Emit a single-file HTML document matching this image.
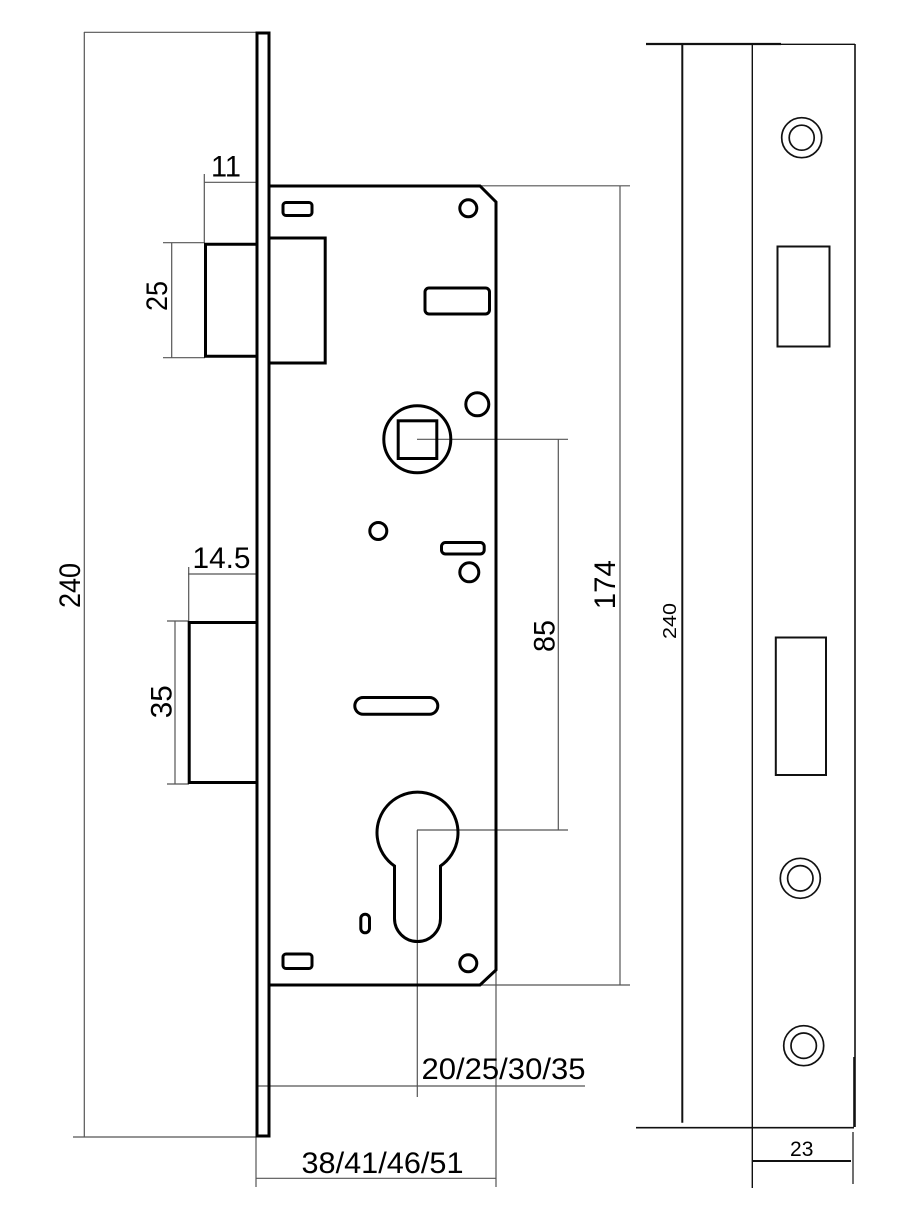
<!DOCTYPE html>
<html>
<head>
<meta charset="utf-8">
<style>
html,body{margin:0;padding:0;background:#fff;}
svg{display:block;}
text{font-family:"Liberation Sans",Arial,sans-serif;fill:#000;}
</style>
</head>
<body>
<svg width="913" height="1220" viewBox="0 0 913 1220" xmlns="http://www.w3.org/2000/svg">
<rect width="913" height="1220" fill="#fff"/>

<!-- Dimension lines (thin gray) -->
<g stroke="#555" stroke-width="1.2" fill="none">
  <line x1="84" y1="32.3" x2="256" y2="32.3"/>
  <line x1="84.3" y1="32" x2="84.3" y2="1137"/>
  <line x1="73" y1="1137" x2="256" y2="1137"/>
  <!-- 11 -->
  <line x1="204.3" y1="174" x2="204.3" y2="243"/>
  <line x1="204" y1="182.3" x2="256" y2="182.3"/>
  <!-- 25 -->
  <line x1="171.7" y1="243" x2="171.7" y2="358"/>
  <line x1="163" y1="242.7" x2="205" y2="242.7"/>
  <line x1="163" y1="357.7" x2="205" y2="357.7"/>
  <!-- 14.5 -->
  <line x1="188.7" y1="567" x2="188.7" y2="621"/>
  <line x1="188" y1="574" x2="256" y2="574"/>
  <!-- 35 -->
  <line x1="175" y1="621" x2="175" y2="784"/>
  <line x1="167" y1="621" x2="189" y2="621"/>
  <line x1="167" y1="784" x2="189" y2="784"/>
  <!-- 174 -->
  <line x1="480" y1="185.8" x2="630" y2="185.8"/>
  <line x1="620" y1="186" x2="620" y2="985"/>
  <line x1="479" y1="985" x2="630" y2="985"/>
  <!-- 85 -->
  <line x1="417" y1="439.3" x2="568" y2="439.3"/>
  <line x1="558.3" y1="439.3" x2="558.3" y2="830"/>
  <line x1="417" y1="830" x2="568" y2="830"/>
  <!-- backset -->
  <line x1="417.3" y1="830" x2="417.3" y2="1097"/>
  <line x1="256.7" y1="1086" x2="585" y2="1086"/>
  <line x1="496" y1="970" x2="496" y2="1187"/>
  <line x1="256" y1="1137" x2="256" y2="1187"/>
  <line x1="256" y1="1178.3" x2="496" y2="1178.3"/>
</g>

<!-- Main drawing (thick black) -->
<g stroke="#000" stroke-width="3" fill="none" stroke-linejoin="miter">
  <rect x="257" y="33" width="12" height="1103"/>
  <path d="M270,186 H480 L496,202 V970 L480,985 H270"/>
  <path d="M270,238 H325.2 V363 H270"/>
  <path d="M256,244.2 H205.5 V356.2 H256"/>
  <path d="M256,622.5 H189.2 V782.5 H256"/>
  <rect x="283" y="202.5" width="29" height="13" rx="3"/>
  <circle cx="468.3" cy="208.3" r="8.5"/>
  <rect x="425" y="288" width="64.5" height="26" rx="4"/>
  <circle cx="477.3" cy="404.3" r="11.5"/>
  <circle cx="417.3" cy="439.3" r="33.5"/>
  <rect x="398.2" y="420.8" width="38.6" height="37.7"/>
  <circle cx="378.3" cy="531" r="8.5"/>
  <rect x="441.5" y="542.5" width="42.7" height="11.5" rx="4"/>
  <circle cx="469.3" cy="572.3" r="9.5"/>
  <rect x="354.8" y="697.5" width="83" height="16.7" rx="8.3"/>
  <path d="M394.5,866 A40.5,40.5 0 1 1 440.5,866 V918.5 A23,23 0 0 1 394.5,918.5 Z"/>
  <rect x="360.8" y="914.2" width="8.7" height="18.6" rx="4.3"/>
  <rect x="283" y="954" width="29" height="14.5" rx="3"/>
  <circle cx="468.3" cy="963.3" r="8.5"/>
</g>

<!-- Right view -->
<g stroke="#111" fill="none">
  <line x1="646" y1="44" x2="781" y2="44" stroke-width="2.2"/>
  <line x1="682.3" y1="45" x2="682.3" y2="1122.7" stroke-width="2"/>
  <line x1="752.3" y1="44" x2="752.3" y2="1188" stroke-width="1.4"/>
  <line x1="752" y1="44.3" x2="855" y2="44.3" stroke-width="1.4"/>
  <line x1="855" y1="44" x2="855" y2="1057" stroke-width="1.6"/>
  <line x1="854.5" y1="1057" x2="854.5" y2="1127" stroke-width="2.6"/>
  <line x1="853" y1="1132" x2="853" y2="1184" stroke-width="1.2"/>
  <line x1="636" y1="1127.7" x2="854" y2="1127.7" stroke-width="1.6"/>
  <line x1="752" y1="1161" x2="851" y2="1161" stroke-width="2"/>
  <circle cx="801.7" cy="137.7" r="20" stroke-width="1.7"/>
  <circle cx="801.7" cy="137.7" r="12.5" stroke-width="1.7"/>
  <rect x="777.5" y="246.5" width="52" height="100" stroke-width="2"/>
  <rect x="775.8" y="637.5" width="50.2" height="137.5" stroke-width="2"/>
  <circle cx="800.3" cy="878.3" r="20" stroke-width="1.7"/>
  <circle cx="800.3" cy="878.3" r="12.7" stroke-width="1.7"/>
  <circle cx="803.7" cy="1045.7" r="20" stroke-width="1.7"/>
  <circle cx="803.7" cy="1045.7" r="12.7" stroke-width="1.7"/>
</g>

<!-- Labels -->
<g font-size="30">
  <text transform="translate(80,585.5) rotate(-90)" text-anchor="middle" textLength="45" lengthAdjust="spacingAndGlyphs">240</text>
  <text transform="translate(167,296) rotate(-90)" text-anchor="middle" textLength="30" lengthAdjust="spacingAndGlyphs">25</text>
  <text transform="translate(171.7,701.7) rotate(-90)" text-anchor="middle" textLength="33" lengthAdjust="spacingAndGlyphs">35</text>
  <text transform="translate(554.3,636) rotate(-90)" text-anchor="middle" textLength="32" lengthAdjust="spacingAndGlyphs">85</text>
  <text transform="translate(615,584.7) rotate(-90)" text-anchor="middle" textLength="49" lengthAdjust="spacingAndGlyphs">174</text>
  <text x="211" y="176.7" textLength="30" lengthAdjust="spacingAndGlyphs">11</text>
  <text x="192.5" y="568" textLength="58" lengthAdjust="spacingAndGlyphs">14.5</text>
  <text x="421.5" y="1079" textLength="164" lengthAdjust="spacingAndGlyphs">20/25/30/35</text>
  <text x="301.5" y="1173" textLength="162" lengthAdjust="spacingAndGlyphs">38/41/46/51</text>
</g>
<text transform="translate(676,621) rotate(-90)" text-anchor="middle" font-size="18" textLength="36" lengthAdjust="spacingAndGlyphs">240</text>
<text x="801.7" y="1156" text-anchor="middle" font-size="21" fill="#222">23</text>
</svg>
</body>
</html>
